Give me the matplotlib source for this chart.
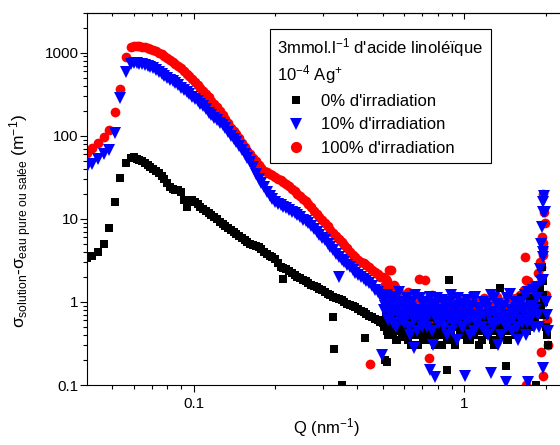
import numpy as np
import matplotlib.pyplot as plt
from matplotlib.ticker import LogLocator, FuncFormatter, NullFormatter

plt.rcParams['font.family'] = ['Liberation Sans', 'DejaVu Sans']
plt.rcParams['mathtext.fontset'] = 'custom'
plt.rcParams['mathtext.rm'] = 'Liberation Sans'
plt.rcParams['mathtext.it'] = 'Liberation Sans:italic'
plt.rcParams['mathtext.bf'] = 'Liberation Sans:bold'

# --- Q values (nm-1) ---
q_low = [0.0404, 0.0423, 0.0443, 0.0465, 0.0487, 0.0511, 0.0535, 0.0561,
         0.0588, 0.0602, 0.0616, 0.0631, 0.0646, 0.0661, 0.0677, 0.0693, 0.0710, 0.0727,
         0.0744, 0.0762, 0.0780, 0.0798, 0.0817, 0.0837, 0.0857, 0.0877, 0.0898, 0.0920,
         0.0942, 0.0964, 0.0987, 0.1011, 0.1035, 0.1059, 0.1085, 0.1110, 0.1137, 0.1164,
         0.1192, 0.1220, 0.1249, 0.1279, 0.1309, 0.1341, 0.1373, 0.1405, 0.1439, 0.1473,
         0.1508, 0.1544, 0.1581, 0.1619, 0.1657, 0.1697, 0.1737, 0.1779, 0.1821, 0.1864,
         0.1909, 0.1954, 0.2001, 0.2049, 0.2097, 0.2147, 0.2198, 0.2251, 0.2304, 0.2359,
         0.2415, 0.2473, 0.2531, 0.2592, 0.2653, 0.2717, 0.2781, 0.2847, 0.2915, 0.2985,
         0.3056, 0.3128, 0.3203, 0.3279, 0.3357, 0.3437, 0.3519, 0.3603, 0.3689, 0.3776,
         0.3867, 0.3959, 0.4053, 0.4149, 0.4249, 0.4350, 0.4454, 0.4559, 0.4668, 0.4779,
         0.4893]
q_high = [0.500, 0.509, 0.517, 0.526, 0.535, 0.545, 0.554, 0.564, 0.573, 0.583,
          0.593, 0.604, 0.614, 0.625, 0.636, 0.647, 0.658, 0.669, 0.681, 0.692,
          0.704, 0.717, 0.729, 0.742, 0.754, 0.767, 0.781, 0.794, 0.808, 0.822,
          0.836, 0.850, 0.865, 0.880, 0.895, 0.911, 0.926, 0.942, 0.959, 0.975,
          0.992, 1.009, 1.027, 1.044, 1.062, 1.081, 1.099, 1.118, 1.138, 1.157,
          1.177, 1.198, 1.218, 1.239, 1.261, 1.282, 1.305, 1.327, 1.350, 1.373,
          1.397, 1.421, 1.446, 1.471, 1.496, 1.522, 1.548, 1.575, 1.602, 1.630,
          1.658, 1.686, 1.715, 1.745, 1.775, 1.806, 1.837, 1.869, 1.901, 1.934,
          1.967, 2.001, 2.035]
q_high2 = [0.504, 0.513, 0.522, 0.531, 0.540, 0.549, 0.559, 0.568, 0.578, 0.588,
           0.598, 0.609, 0.619, 0.630, 0.641, 0.652, 0.663, 0.675, 0.686, 0.698,
           0.710, 0.723, 0.735, 0.748, 0.761, 0.774, 0.787, 0.801, 0.815, 0.829,
           0.843, 0.858, 0.872, 0.887, 0.903, 0.918, 0.934, 0.950, 0.967, 0.983,
           1.000, 1.018, 1.035, 1.053, 1.071, 1.090, 1.108, 1.128, 1.147, 1.167,
           1.187, 1.208, 1.229, 1.250, 1.271, 1.293, 1.316, 1.338, 1.361, 1.385,
           1.409, 1.433, 1.458, 1.483, 1.509, 1.535, 1.561, 1.588, 1.616, 1.644,
           1.672, 1.701, 1.730, 1.760, 1.790, 1.821, 1.853, 1.885, 1.917, 1.950,
           1.984, 2.018]

# --- 0% d'irradiation (black squares) ---
black_low = [3.4, 3.6, 4.0, 5.0, 7.8, 16, 31, 47,
             54, 55, 53, 51, 49, 47, 45, 42, 40, 38,
             36, 33, 30, 27, 24, 23, 22, 22, 21, 17,
             14, 16, 17, 16, 15, 14, 13, 12.4, 11.8, 11.2,
             10.6, 9.9, 9.2, 8.7, 8.2, 7.8, 7.4, 7.0, 6.6, 6.2,
             5.9, 5.5, 5.2, 5.0, 4.8, 4.7, 4.6, 4.3, 4.0, 3.8,
             3.6, 3.45, 3.3, 2.9, 2.6, 2.55, 2.5, 2.35, 2.2, 2.1,
             2.0, 1.92, 1.85, 1.78, 1.7, 1.62, 1.55, 1.5, 1.45, 1.38,
             1.3, 1.25, 1.2, 1.15, 1.1, 1.08, 1.05, 1.0, 0.95, 0.92,
             0.9, 0.86, 0.82, 0.78, 0.75, 0.71, 0.68, 0.65, 0.62, 0.6,
             0.58]
black_high = [0.55, 0.6, 0.45, 0.7, 0.5, 0.4, 0.65, 0.35, 0.55, 0.45,
              0.5, 0.38, 0.6, 0.42, 0.3, 0.55, 0.45, 0.65, 0.4, 0.5,
              0.35, 0.55, 0.45, 0.7, 0.4, 0.5, 0.3, 0.6, 0.45, 0.55,
              0.4, 0.5, 0.35, 0.65, 0.45, 0.55, 0.3, 0.5, 0.6, 0.4,
              0.55, 0.45, 0.35, 0.6, 0.5, 0.4, 0.7, 0.45, 0.55, 0.35,
              0.5, 0.6, 0.4, 0.55, 0.45, 0.3, 0.65, 0.5, 0.4, 0.55,
              0.45, 0.6, 0.35, 0.55, 0.5, 0.7, 0.4, 0.6, 0.45, 0.8,
              0.55, 0.9, 0.5, 1.1, 0.6, 0.8, 1.2, 0.7, 1.5, 2.6,
              1.0, 0.5, 0.3]
black_high2 = [0.5, 0.7, 0.4, 0.6, 0.45, 0.55, 0.35, 0.6, 0.5, 0.4,
               0.65, 0.45, 0.35, 0.55, 0.5, 0.4, 0.6, 0.3, 0.5, 0.45,
               0.6, 0.4, 0.55, 0.35, 0.5, 0.65, 0.45, 0.4, 0.55, 0.3,
               0.5, 0.6, 0.45, 0.4, 0.7, 0.35, 0.5, 0.55, 0.45, 0.6,
               0.4, 0.5, 0.65, 0.35, 0.55, 0.45, 0.5, 0.3, 0.6, 0.45,
               0.55, 0.4, 0.7, 0.5, 0.35, 0.6, 0.45, 0.55, 0.4, 0.65,
               0.5, 0.35, 0.6, 0.45, 0.75, 0.55, 0.4, 0.65, 0.5, 0.6,
               0.9, 0.45, 0.7, 0.5, 1.0, 0.6, 0.8, 1.3, 0.9, 1.8,
               0.7, 0.4]
black_out_q = [0.2143, 0.3286, 0.331, 0.352, 0.4286, 0.5085, 0.5174, 0.865,
               0.879, 1.349, 1.42, 1.616, 1.836, 1.916, 1.95]
black_out_i = [1.9, 0.66, 0.27, 0.1, 0.37, 0.2, 0.19, 0.15,
               1.84, 1.47, 0.17, 1.15, 0.1, 2.6, 1.2]

# --- 10% d'irradiation (blue triangles) ---
blue_low = [42, 46, 53, 60, 67, 107, 285, 580,
            740, 750, 750, 740, 720, 705, 690, 670, 650, 620,
            590, 560, 530, 500, 470, 450, 430, 405, 380, 360,
            340, 318, 295, 277, 260, 242, 225, 207, 190, 177,
            165, 153, 142, 133, 125, 112, 100, 92, 85, 76,
            68, 60, 54, 48, 42, 35, 30, 27, 24, 21,
            19, 17.5, 16, 15.2, 14.5, 14, 13.5, 12.8, 12.2, 11.6,
            11, 10.4, 9.8, 9.3, 8.8, 8.1, 7.5, 6.9, 6.4, 5.9,
            5.5, 5.0, 4.6, 4.2, 3.8, 3.5, 3.2, 3.0, 2.8, 2.6,
            2.4, 2.25, 2.1, 2.0, 1.9, 1.8, 1.7, 1.55, 1.4, 1.3,
            1.2]
blue_high = [1.1, 0.9, 1.2, 0.75, 1.0, 0.55, 0.95, 0.8, 1.3, 0.6,
             0.9, 0.7, 1.1, 0.5, 0.85, 0.65, 1.2, 0.45, 0.8, 0.6,
             0.75, 1.0, 0.5, 0.7, 0.9, 0.3, 0.65, 1.1, 0.55, 0.8,
             0.6, 0.95, 0.4, 0.7, 1.2, 0.55, 0.75, 0.35, 0.9, 0.65,
             0.5, 0.8, 1.05, 0.6, 0.7, 0.45, 1.15, 0.6, 0.85, 0.5,
             0.7, 0.95, 0.4, 0.75, 0.55, 1.1, 0.65, 0.3, 0.8, 0.6,
             0.9, 0.5, 0.7, 1.25, 0.45, 0.65, 0.85, 0.35, 1.0, 0.55,
             0.8, 0.4, 1.3, 0.6, 0.9, 0.5, 1.5, 0.7, 2.5, 8.0,
             19, 1.0, 0.45]
blue_high2 = [0.8, 1.05, 0.6, 0.9, 0.7, 1.15, 0.5, 0.85, 0.65, 1.0,
              0.55, 0.95, 0.75, 0.4, 1.0, 0.6, 0.8, 0.7, 1.1, 0.5,
              0.9, 0.6, 0.85, 1.15, 0.45, 0.75, 0.95, 0.55, 0.7, 1.05,
              0.5, 0.8, 0.65, 1.0, 0.45, 0.85, 0.6, 1.1, 0.7, 0.5,
              0.95, 0.6, 0.75, 0.4, 0.9, 1.1, 0.55, 0.8, 0.65, 1.0,
              0.45, 0.85, 0.7, 1.2, 0.5, 0.75, 0.95, 0.6, 0.4, 0.9,
              0.65, 1.1, 0.55, 0.8, 0.7, 1.0, 0.5, 0.9, 0.6, 0.75,
              1.2, 0.55, 0.85, 0.65, 1.4, 0.8, 1.1, 0.5, 1.8, 3.5,
              12, 0.7]
blue_out_q = [0.343, 0.4957, 0.652, 0.747, 0.780, 1.009, 1.249, 1.42, 1.715,
              1.95, 1.95, 1.95, 1.95, 1.95, 1.916]
blue_out_i = [2.0, 0.23, 0.28, 0.15, 0.125, 0.13, 0.14, 0.11, 0.11,
              16, 12, 4.0, 1.84, 0.16, 5.0]

# --- 100% d'irradiation (red circles) ---
red_low = [62, 72, 82, 97, 118, 195, 370, 880,
           1170, 1200, 1200, 1190, 1170, 1160, 1140, 1110, 1080, 1040,
           1000, 955, 910, 865, 820, 775, 730, 690, 650, 605,
           560, 520, 480, 445, 410, 380, 350, 320, 290, 265,
           240, 220, 200, 180, 160, 142, 125, 115, 105, 93,
           82, 74, 66, 60, 54, 49, 44, 41, 38, 36.5,
           35, 33.5, 32, 30.5, 29, 27.5, 26, 24.5, 23, 21.5,
           20, 18.7, 17.5, 16.2, 15, 13.7, 12.5, 11.5, 10.5, 9.6,
           8.8, 8.1, 7.4, 6.8, 6.2, 5.7, 5.2, 4.8, 4.4, 4.0,
           3.7, 3.45, 3.2, 3.05, 2.9, 2.75, 2.6, 2.45, 2.3, 2.15,
           2.0]
red_high = [2.0, 1.6, 1.8, 1.3, 2.4, 1.2, 1.5, 1.0, 1.3, 0.9,
            1.1, 0.8, 1.2, 0.9, 0.7, 1.0, 0.85, 0.6, 1.9, 0.75,
            0.9, 0.65, 0.8, 1.1, 0.5, 0.85, 0.7, 0.95, 0.6, 0.8,
            1.0, 0.7, 0.55, 0.9, 0.75, 1.1, 0.6, 0.85, 0.7, 0.95,
            0.65, 0.8, 1.0, 0.55, 0.9, 0.7, 1.05, 0.6, 0.85, 0.75,
            1.1, 0.65, 0.8, 0.95, 0.5, 0.9, 0.75, 1.0, 0.6, 0.85,
            0.7, 1.05, 0.8, 0.6, 0.95, 0.75, 1.1, 0.65, 1.2, 0.9,
            1.4, 0.8, 1.8, 1.1, 0.7, 1.3, 1.0, 2.2, 3.0, 6.0,
            12, 1.2, 0.3]
red_high2 = [1.5, 1.9, 1.1, 1.4, 1.0, 1.6, 0.9, 1.2, 0.8, 1.05,
             0.95, 0.7, 1.3, 0.85, 1.0, 0.75, 1.1, 0.9, 0.65, 0.95,
             0.8, 1.05, 0.7, 0.9, 1.2, 0.6, 0.85, 0.75, 1.0, 0.65,
             0.9, 0.8, 1.1, 0.7, 0.95, 0.6, 0.85, 1.0, 0.75, 0.9,
             1.05, 0.7, 0.85, 0.95, 0.65, 1.1, 0.8, 0.7, 1.0, 0.9,
             0.75, 0.95, 0.6, 1.05, 0.85, 0.7, 1.15, 0.8, 0.9, 0.65,
             1.0, 0.75, 0.9, 1.1, 0.7, 0.85, 0.95, 0.6, 1.05, 0.8,
             0.9, 1.3, 0.75, 1.5, 0.9, 1.2, 1.6, 0.8, 2.6, 4.5,
             9.0, 0.6]
red_out_q = [0.447, 0.526, 0.716, 0.741, 1.671, 1.685, 1.685, 1.685,
             1.95, 1.95, 1.95, 1.95, 1.916]
red_out_i = [0.18, 2.4, 1.84, 0.21, 3.5, 1.84, 1.4, 0.1,
             20, 5.1, 3.7, 0.13, 0.25]

q_red = q_low + q_high + q_high2 + red_out_q
red_all = red_low + red_high + red_high2 + red_out_i
q_black = q_low + q_high + q_high2 + black_out_q
black_all = black_low + black_high + black_high2 + black_out_i
q_blue = q_low + q_high + q_high2 + blue_out_q
blue_all = blue_low + blue_high + blue_high2 + blue_out_i

fig = plt.figure(figsize=(5.6, 4.45), dpi=100)
ax = fig.add_axes([0.1554, 0.1348, 0.855, 0.836])
ax.set_xscale('log')
ax.set_yscale('log')

# red drawn first, blue on top
l_red, = ax.plot(q_red, red_all, 'o', color='#ff0000', ms=7, mew=0, zorder=2,
                 label="100% d'irradiation")
l_black, = ax.plot(q_black, black_all, 's', color='#000000', ms=5.5, mew=0, zorder=3,
                   label="0% d'irradiation")
l_blue, = ax.plot(q_blue, blue_all, 'v', color='#0000ff', ms=8, mew=0, zorder=4,
                  label="10% d'irradiation")

ax.set_xlim(0.0404, 2.37)
ax.set_ylim(0.1, 3000)

# ticks
ax.xaxis.set_major_locator(LogLocator(base=10))
ax.xaxis.set_minor_locator(LogLocator(base=10, subs=np.arange(2, 10)))
ax.yaxis.set_minor_locator(LogLocator(base=10, subs=np.arange(2, 10)))
fmt = FuncFormatter(lambda v, p: f'{v:g}')
ax.xaxis.set_major_formatter(fmt)
ax.yaxis.set_major_formatter(fmt)
ax.xaxis.set_minor_formatter(NullFormatter())
ax.yaxis.set_minor_formatter(NullFormatter())
ax.tick_params(which='both', direction='out', top=False, right=False, labelsize=11, width=0.8)
ax.tick_params(which='major', length=5)
ax.tick_params(which='minor', length=3)
ax.tick_params(axis='y', pad=1)

sec = ax.secondary_xaxis('top')
sec.tick_params(which='both', direction='in', labeltop=False, width=0.8)
sec.tick_params(which='major', length=4)
sec.tick_params(which='minor', length=2.5)
sec.xaxis.set_major_formatter(NullFormatter())
sec.xaxis.set_minor_formatter(NullFormatter())

ax.spines['right'].set_visible(False)
for s in ['left', 'bottom', 'top']:
    ax.spines[s].set_linewidth(0.8)

ax.set_xlabel('Q (nm$^{-1}$)', fontsize=12, labelpad=4)
ax.set_ylabel(r'σ$_{\mathrm{solution}}$-σ$_{\mathrm{eau\ pure\ ou\ salée}}$ (m$^{-1}$)', fontsize=12.5)
ax.yaxis.set_label_coords(-0.11, 0.44)

leg = ax.legend(handles=[l_black, l_blue, l_red],
                title="3mmol.l$^{-1}$ d'acide linoléïque\n10$^{-4}$ Ag$^{+}$",
                loc='upper left', bbox_to_anchor=(0.382, 0.957),
                fontsize=12, title_fontsize=12, alignment='left',
                frameon=True, fancybox=False, edgecolor='black', framealpha=1,
                borderpad=0.45, labelspacing=0.5, handlelength=2.2, handletextpad=0.4,
                markerscale=1.15, borderaxespad=0)
leg.get_frame().set_linewidth(0.8)
leg.get_title().set_multialignment('left')

fig.savefig('out.png', dpi=100)
